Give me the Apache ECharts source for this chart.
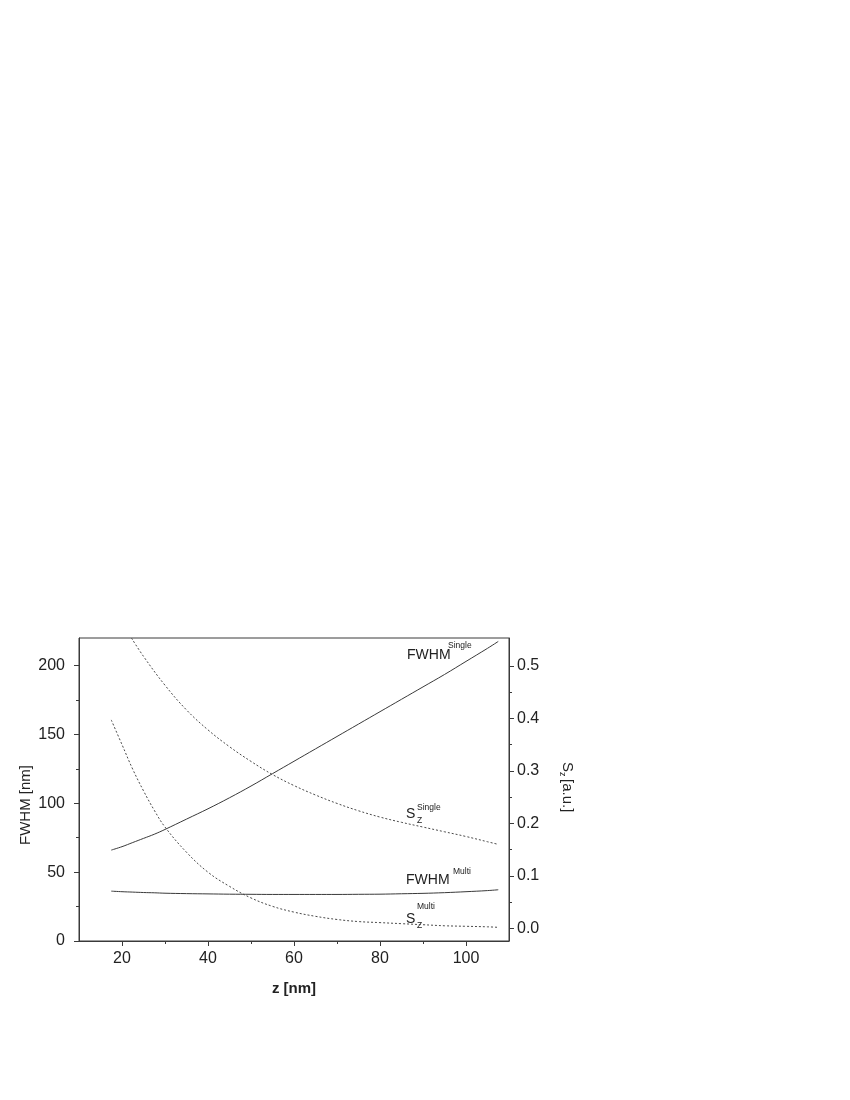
<!DOCTYPE html>
<html>
<head>
<meta charset="utf-8">
<script src="https://cdn.jsdelivr.net/npm/echarts@6/dist/echarts.min.js"></script>
<style>
  html, body { margin: 0; padding: 0; background: #fff; }
  #chart { width: 850px; height: 1100px; }
</style>
</head>
<body>
<div id="chart"></div>
<script>
// z positions [nm]
let zList = [17.5, 20, 22.5, 25, 27.5, 30, 35, 40, 45, 50, 55, 60, 65, 70, 75, 80, 85, 90, 95, 100, 105, 107.5]
// FWHM [nm], left axis
let fwhmSingle = [66, 68.5, 71.5, 74.5, 77.5, 81, 88.5, 96, 104, 112.5, 121.5, 130.5, 139.5, 148.5, 157.5, 166.5, 175.5, 184.5, 193.5, 203, 212.5, 217.5]
let fwhmMulti = [36.2, 35.8, 35.5, 35.2, 35, 34.7, 34.4, 34.2, 34, 33.9, 33.8, 33.8, 33.8, 33.8, 33.9, 34, 34.3, 34.6, 35.1, 35.8, 36.6, 37.2]
// S_z [a.u.], right axis
let szSingleZ = [22.2, 25, 30, 35, 40, 45, 50, 55, 60, 65, 70, 75, 80, 85, 90, 95, 100, 105, 107.5]
let szSingle = [0.553, 0.518, 0.463, 0.416, 0.378, 0.346, 0.318, 0.293, 0.272, 0.254, 0.238, 0.224, 0.212, 0.202, 0.193, 0.184, 0.175, 0.165, 0.16]
let szMulti = [0.397, 0.35, 0.303, 0.262, 0.225, 0.193, 0.145, 0.107, 0.08, 0.058, 0.042, 0.031, 0.023, 0.017, 0.013, 0.011, 0.009, 0.007, 0.005, 0.004, 0.003, 0.002]
// ticks
let xMajor = [20, 40, 60, 80, 100]
let xMinor = [30, 50, 70, 90]
let leftMajor = [0, 50, 100, 150, 200]
let leftMinor = [25, 75, 125, 175]
let rightMajor = [0, 0.1, 0.2, 0.3, 0.4, 0.5]
let rightMinor = [0.05, 0.15, 0.25, 0.35, 0.45]

const font = 'Liberation Sans'
const ink = '#222'
const lineInk = '#3a3a3a'

function pairs (xs, ys) {
  return xs.map((x, i) => [x, ys[i]])
}

let chart = echarts.init(document.getElementById('chart'))

let baseAxis = {
  type: 'value',
  splitLine: { show: false },
  axisLine: { show: true, onZero: false, lineStyle: { color: lineInk, width: 1 } },
  axisLabel: { color: ink, fontFamily: font, fontSize: 16 }
}

// second copy of an axis, only for the short minor ticks
function minorAxis (axis, values) {
  return Object.assign({}, axis, {
    name: '',
    axisLine: { show: false, onZero: false },
    axisLabel: { show: false },
    axisTick: { show: true, length: 3, lineStyle: { color: lineInk }, customValues: values }
  })
}

let xMain = Object.assign({}, baseAxis, {
  min: 10, max: 110, position: 'bottom',
  name: 'z [nm]',
  nameLocation: 'middle',
  nameGap: 40,
  nameTextStyle: { color: ink, fontFamily: font, fontSize: 15, fontWeight: 'bold' },
  axisTick: { show: true, length: 5, lineStyle: { color: lineInk }, customValues: xMajor },
  axisLabel: { color: ink, fontFamily: font, fontSize: 16, margin: 10, customValues: xMajor }
})
let yLeft = Object.assign({}, baseAxis, {
  min: 0, max: 220, position: 'left',
  axisTick: { show: true, length: 5, lineStyle: { color: lineInk }, customValues: leftMajor },
  axisLabel: { color: ink, fontFamily: font, fontSize: 16, margin: 14, customValues: leftMajor }
})
let yRight = Object.assign({}, baseAxis, {
  min: -0.024, max: 0.553, position: 'right',
  axisTick: { show: true, length: 5, lineStyle: { color: lineInk }, customValues: rightMajor },
  axisLabel: {
    color: ink, fontFamily: font, fontSize: 16, margin: 8, customValues: rightMajor,
    formatter: v => v.toFixed(1)
  }
})

const big = '14px "Liberation Sans"'
const small = '8.5px "Liberation Sans"'

let option = {
  animation: false,
  backgroundColor: '#fff',
  grid: {
    left: 79, right: 341, top: 638, bottom: 159,
    show: true, borderColor: lineInk, borderWidth: 1, backgroundColor: 'transparent'
  },
  xAxis: [xMain, minorAxis(xMain, xMinor)],
  yAxis: [yLeft, yRight, minorAxis(yLeft, leftMinor), minorAxis(yRight, rightMinor)],
  series: [
    {
      name: 'FWHM Single', type: 'line', yAxisIndex: 0, smooth: 0.4, symbol: 'none',
      lineStyle: { color: lineInk, width: 1 },
      data: pairs(zList, fwhmSingle)
    },
    {
      name: 'FWHM Multi', type: 'line', yAxisIndex: 0, smooth: 0.4, symbol: 'none',
      lineStyle: { color: lineInk, width: 1 },
      data: pairs(zList, fwhmMulti)
    },
    {
      name: 'Sz Single', type: 'line', yAxisIndex: 1, smooth: 0.4, symbol: 'none',
      lineStyle: { color: '#4a4a4a', width: 1, type: [2, 2] },
      data: pairs(szSingleZ, szSingle)
    },
    {
      name: 'Sz Multi', type: 'line', yAxisIndex: 1, smooth: 0.4, symbol: 'none',
      lineStyle: { color: '#4a4a4a', width: 1, type: [2, 2] },
      data: pairs(zList, szMulti)
    }
  ],
  graphic: [
    // FWHM^Single
    { type: 'text', x: 407, y: 655, style: { text: 'FWHM', fill: ink, font: big, verticalAlign: 'middle' } },
    { type: 'text', x: 448, y: 646, style: { text: 'Single', fill: ink, font: small, verticalAlign: 'middle' } },
    // S_z^Single
    { type: 'text', x: 406, y: 814, style: { text: 'S', fill: ink, font: big, verticalAlign: 'middle' } },
    { type: 'text', x: 417, y: 807.5, style: { text: 'Single', fill: ink, font: small, verticalAlign: 'middle' } },
    { type: 'text', x: 417, y: 821, style: { text: 'Z', fill: ink, font: small, verticalAlign: 'middle' } },
    // FWHM^Multi
    { type: 'text', x: 406, y: 880, style: { text: 'FWHM', fill: ink, font: big, verticalAlign: 'middle' } },
    { type: 'text', x: 453, y: 872, style: { text: 'Multi', fill: ink, font: small, verticalAlign: 'middle' } },
    // S_z^Multi
    { type: 'text', x: 406, y: 919.5, style: { text: 'S', fill: ink, font: big, verticalAlign: 'middle' } },
    { type: 'text', x: 417, y: 907, style: { text: 'Multi', fill: ink, font: small, verticalAlign: 'middle' } },
    { type: 'text', x: 417, y: 926, style: { text: 'Z', fill: ink, font: small, verticalAlign: 'middle' } },
    // left axis name, reads bottom to top
    {
      type: 'text', x: 26, y: 805, rotation: Math.PI / 2,
      style: { text: 'FWHM [nm]', fill: ink, font: '15px "Liberation Sans"', align: 'center', verticalAlign: 'middle' }
    },
    // right axis name S_z [a.u.], reads top to bottom
    {
      type: 'group', x: 567, y: 762, rotation: -Math.PI / 2,
      children: [
        { type: 'text', x: 0, y: 0, style: { text: 'S', fill: ink, font: '15px "Liberation Sans"', verticalAlign: 'middle' } },
        { type: 'text', x: 10, y: 5, style: { text: 'z', fill: ink, font: '9px "Liberation Sans"', verticalAlign: 'middle' } },
        { type: 'text', x: 17, y: 0, style: { text: '[a.u.]', fill: ink, font: '15px "Liberation Sans"', verticalAlign: 'middle' } }
      ]
    }
  ]
}

chart.setOption(option)
</script>
</body>
</html>
